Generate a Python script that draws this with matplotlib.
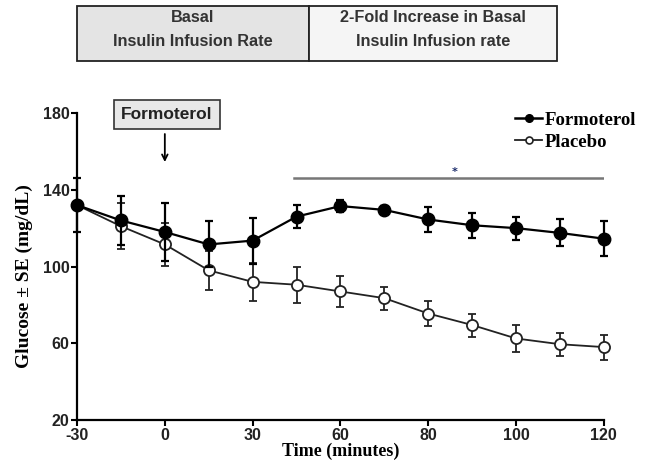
import numpy as np
import matplotlib
matplotlib.use('Agg')
import matplotlib.pyplot as plt
from matplotlib.patches import Rectangle
from matplotlib.lines import Line2D

# data (x positions are evenly spaced sample times)
times = [-30, -15, 0, 15, 30, 45, 60, 70, 80, 90, 100, 110, 120]
tick_times = [-30, 0, 30, 60, 80, 100, 120]

formo_mean = [132, 124, 118, 111.5, 113.5, 126, 131.5, 129.5, 124.5, 121.5, 120, 117.5, 114.5]
formo_se = [14, 13, 15, 12, 12, 6, 3, 2, 6.5, 6.5, 6, 7, 9]
plac_mean = [132, 121, 111.5, 98, 92, 90.5, 87, 83.5, 75.5, 69.5, 62.5, 59.5, 58]
plac_se = [14, 12, 11, 10, 10, 9.5, 8, 6, 6.5, 6, 7, 6, 6.5]

sig_start, sig_end, sig_level = 45, 120, 146

x = np.arange(len(times))
tick_pos = [times.index(t) for t in tick_times]

fig = plt.figure(figsize=(6.5, 4.66), dpi=100)
ax = fig.add_axes([0.1185, 0.0987, 0.8105, 0.6588])

serif = 'Liberation Serif'
sans = 'Liberation Sans'

ax.errorbar(x, formo_mean, yerr=formo_se, fmt='-o', color='black', mfc='black',
            mec='black', ms=9, lw=1.6, elinewidth=1.6, capsize=3, capthick=1.6,
            zorder=3)
ax.errorbar(x, plac_mean, yerr=plac_se, fmt='-o', color='#222222', mfc='white',
            mec='#222222', ms=8, mew=1.3, lw=1.3, elinewidth=1.3, capsize=3,
            capthick=1.3, zorder=2)
for a in ax.lines + ax.collections:
    a.set_clip_on(False)

# significance bar + asterisk
ax.plot([times.index(sig_start) - 0.05, times.index(sig_end)], [sig_level, sig_level],
        color='#777777', lw=1.8)
ax.text(8.6, sig_level + 3.5, '*', ha='center', va='center', fontsize=8,
        color='#1a2a6a', fontweight='bold')

# Formoterol dosing box and arrow
ax.text(2.05, 179.3, 'Formoterol', ha='center', va='center', fontsize=12.5,
        fontweight='bold', family=sans, color='#222222',
        bbox=dict(boxstyle='square,pad=0.42', fc='#e8e8e8', ec='#333333', lw=1.2))
ax.annotate('', xy=(2, 153), xytext=(2, 170.5),
            arrowprops=dict(arrowstyle='->', color='black', lw=1.3))

ax.set_xlim(0, 12)
ax.set_ylim(20, 180)
ax.set_xticks(tick_pos)
ax.set_xticklabels([str(t) for t in tick_times])
ax.set_yticks([20, 60, 100, 140, 180])
for lab in ax.get_xticklabels() + ax.get_yticklabels():
    lab.set_fontweight('bold')
    lab.set_fontsize(11.5)
    lab.set_family(sans)
    lab.set_color('#222222')
ax.tick_params(direction='out', length=4, width=1.5, pad=1.5)
ax.spines['top'].set_visible(False)
ax.spines['right'].set_visible(False)
ax.spines['left'].set_linewidth(1.6)
ax.spines['bottom'].set_linewidth(1.6)

ax.set_xlabel('Time (minutes)', fontsize=13, fontweight='bold', family=serif, labelpad=0)
ax.set_ylabel('Glucose ± SE (mg/dL)', fontsize=14, fontweight='bold', family=serif)
ax.yaxis.set_label_coords(-0.084, 0.47)

handles = [Line2D([], [], color='black', lw=1.8, marker='o', ms=5.5, mfc='black'),
           Line2D([], [], color='#222222', lw=1.3, marker='o', ms=5, mfc='white', mew=1.2)]
ax.legend(handles, ['Formoterol', 'Placebo'], loc='upper right',
          bbox_to_anchor=(1.093, 1.06), frameon=False,
          handlelength=1.4, handletextpad=0.15, labelspacing=0.28,
          prop=dict(family=serif, weight='bold', size=13.5))

# header boxes for insulin infusion periods
W, H = 650, 466
def box(x0, x1, fc, lines):
    r = Rectangle((x0 / W, 1 - 61 / H), (x1 - x0) / W, 55 / H, transform=fig.transFigure,
                  fc=fc, ec='#222222', lw=1.3)
    fig.add_artist(r)
    fig.text((x0 + x1) / 2 / W, 1 - 30 / H, lines, ha='center', va='center',
             fontsize=11.7, fontweight='bold', family=sans, color='#333333', linespacing=1.75)

box(77, 309, '#e4e4e4', 'Basal\nInsulin Infusion Rate')
box(309, 557, '#f5f5f5', '2-Fold Increase in Basal\nInsulin Infusion rate')

fig.savefig('out.png', dpi=100)
